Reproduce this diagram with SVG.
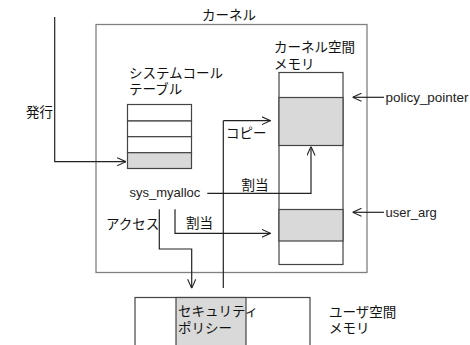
<svg xmlns="http://www.w3.org/2000/svg" width="470" height="345" viewBox="0 0 470 345">
<style>
.jp{font-family:"Noto Sans CJK JP","Liberation Sans",sans-serif;font-size:13.5px;fill:#111}
.en{font-family:"Liberation Sans","DejaVu Sans",sans-serif;font-size:13px;fill:#222}
.box{fill:#fff;stroke:#444;stroke-width:1.2}
.gray{fill:#d9d9d9;stroke:#444;stroke-width:1.2}
.kern{fill:none;stroke:#808080;stroke-width:1.3}
.ln{fill:none;stroke:#222;stroke-width:1.2}
.arr{fill:none;stroke:#222;stroke-width:1.2;marker-end:url(#ah)}
</style>
<defs>
<marker id="ah" viewBox="0 0 10 10" refX="10" refY="5" markerWidth="9" markerHeight="9" markerUnits="userSpaceOnUse" orient="auto">
<path d="M0,0.5 L10,5 L0,9.5" fill="none" stroke="#222" stroke-width="1.2"/>
</marker>
</defs>
<rect width="470" height="345" fill="#fff"/>
<g id="kernel">
<rect class="kern" x="96" y="24.5" width="271" height="248"/>
<text class="jp" x="202" y="20">カーネル</text>
</g>
<g id="syscall-table">
<rect class="box" x="127.5" y="104.5" width="64" height="16.5"/>
<rect class="box" x="127.5" y="121" width="64" height="15.7"/>
<rect class="box" x="127.5" y="136.7" width="64" height="16"/>
<rect class="gray" x="127.5" y="152.7" width="64" height="15.8"/>
<text class="jp" x="129" y="78">システムコール</text>
<text class="jp" x="129" y="94">テーブル</text>
</g>
<g id="kernel-memory">
<rect class="box" x="279" y="72.5" width="64" height="192"/>
<rect class="gray" x="279" y="97.5" width="64" height="48"/>
<rect class="gray" x="279" y="209.5" width="64" height="31.5"/>
<text class="jp" x="274" y="52">カーネル空間</text>
<text class="jp" x="274" y="69">メモリ</text>
</g>
<g id="user-memory">
<rect class="box" x="135" y="297.5" width="175" height="60"/>
<rect class="gray" x="176" y="297.5" width="70" height="60"/>
<text class="jp" x="178" y="316">セキュリティ</text>
<text class="jp" x="178" y="333">ポリシー</text>
<text class="jp" x="329" y="316.5">ユーザ空間</text>
<text class="jp" x="329" y="333">メモリ</text>
</g>
<g id="sys-myalloc">
<text class="en" x="129.5" y="196.5">sys_myalloc</text>
</g>
<g id="policy-pointer">
<text class="en" x="385.5" y="101.5" textLength="83" lengthAdjust="spacingAndGlyphs">policy_pointer</text>
</g>
<g id="user-arg">
<text class="en" x="385.5" y="216.5">user_arg</text>
</g>
<g id="connectors">
<path class="arr" d="M54.7,17 V161.7 H126"/>
<text class="jp" x="26" y="116.5">発行</text>
<path class="arr" d="M384,97.3 H352.5"/>
<path class="arr" d="M384,212.3 H352.5"/>
<path class="arr" d="M207.3,193.3 H311 V146.5"/>
<text class="jp" x="241.5" y="190">割当</text>
<path class="ln" d="M223.3,288 V120.7"/>
<path class="arr" d="M223.3,120.7 H270.5"/>
<text class="jp" x="226" y="138">コピー</text>
<path class="arr" d="M159.3,209.3 V249 H191.7 V288.3"/>
<text class="jp" x="106" y="228.5">アクセス</text>
<path class="arr" d="M175,209.3 V233.3 H270.5"/>
<text class="jp" x="186" y="228">割当</text>
</g>
</svg>
